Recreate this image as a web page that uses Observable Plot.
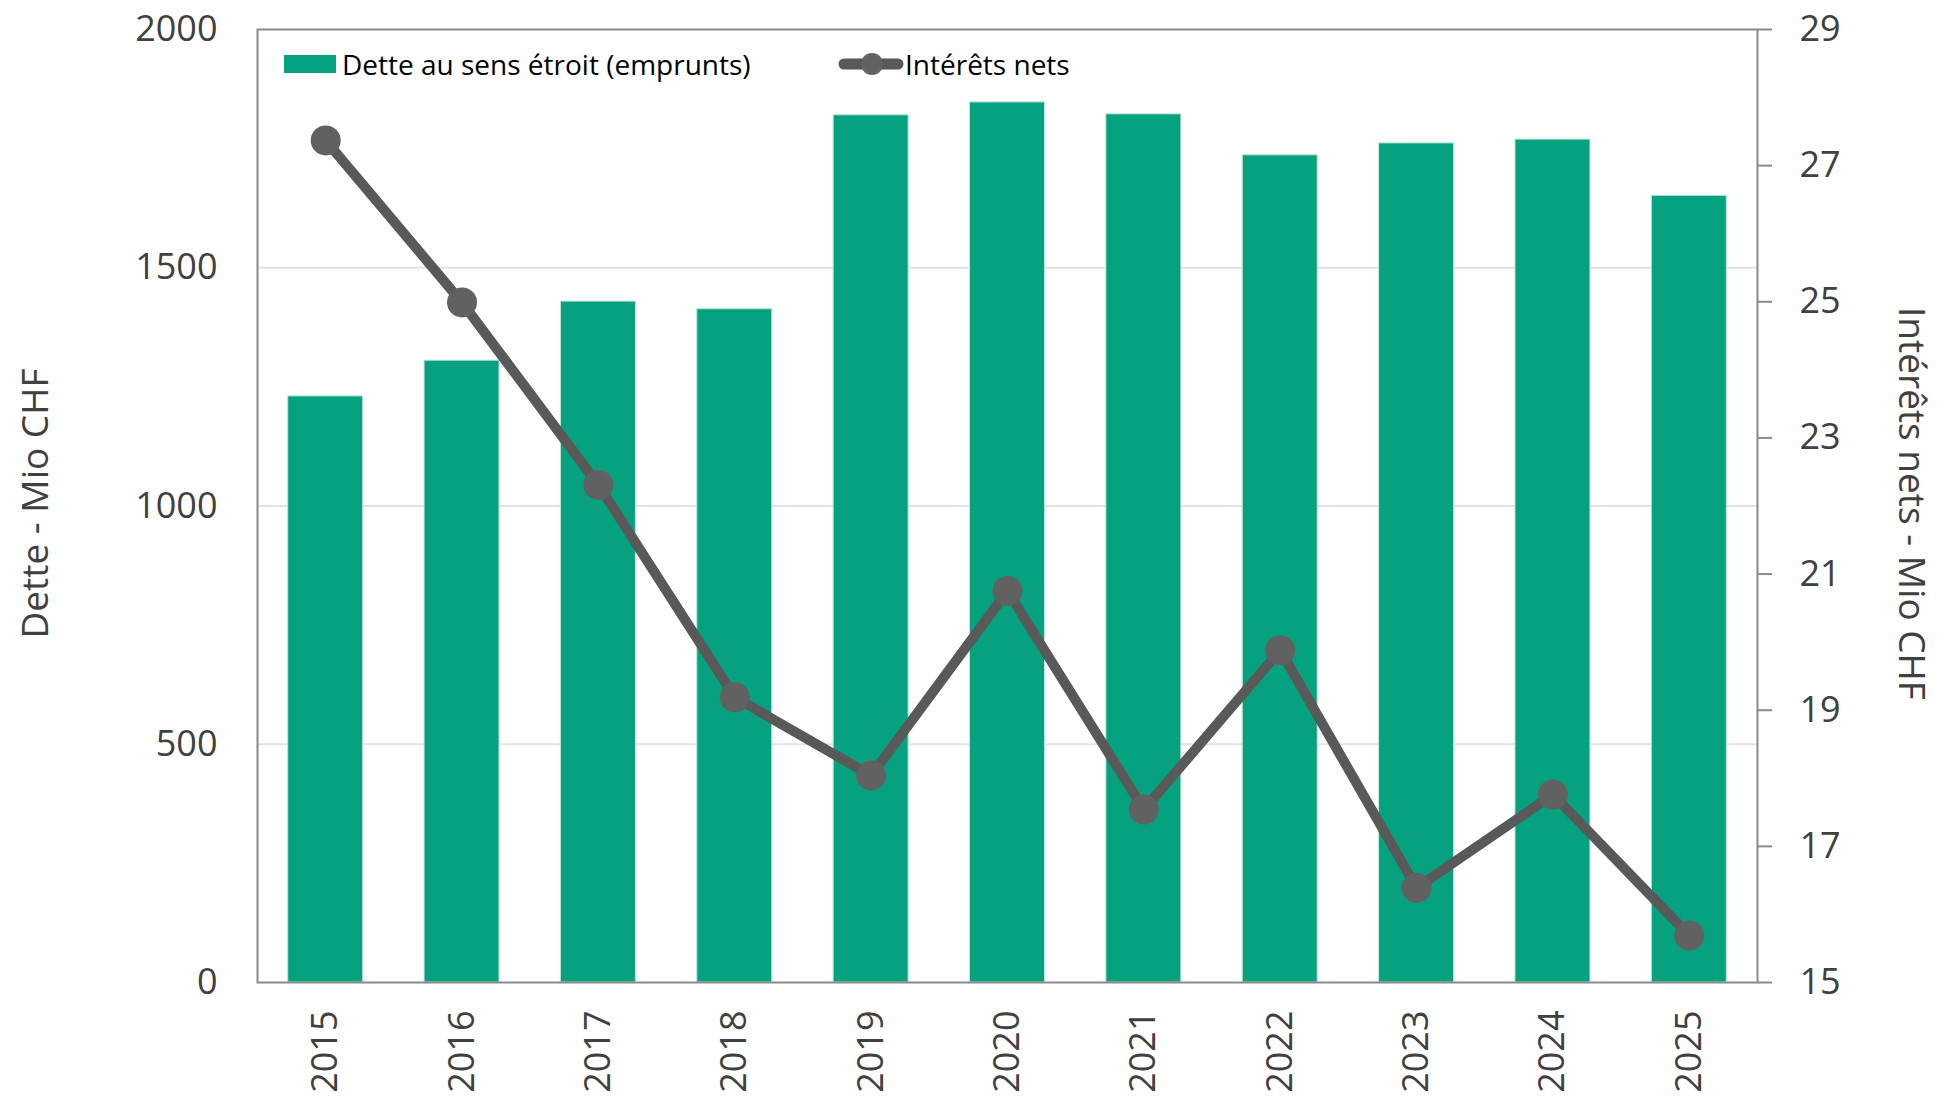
<!DOCTYPE html>
<html><head><meta charset="utf-8">
<script src="https://cdn.jsdelivr.net/npm/d3@7"></script>
<script src="https://cdn.jsdelivr.net/npm/@observablehq/plot@0.6"></script>
<style>
body{margin:0;background:#fff;font-family:"Open Sans",sans-serif;}
#wrap{position:relative;width:1939px;height:1099px;overflow:hidden;}
.ttl{position:absolute;white-space:nowrap;font-size:37px;color:#404040;transform-origin:center;}
.leg{position:absolute;display:flex;align-items:center;font-size:28px;color:#000;white-space:nowrap;}
</style></head><body><div id="wrap"></div>
<script>
const years = ["2015","2016","2017","2018","2019","2020","2021","2022","2023","2024","2025"];
const dette = [1230,1305,1429,1413,1820,1847,1822,1736,1761,1769,1651];
const interets = [27.37,24.99,22.31,19.19,18.04,20.75,17.54,19.88,16.39,17.76,15.69];
const leftTicks = [0,500,1000,1500,2000];
const gridTicks = [500,1000,1500];
const rightTicks = [15,17,19,21,23,25,27,29];
const seriesNames = ["Dette au sens étroit (emprunts)","Intérêts nets"];
const axisTitles = ["Dette - Mio CHF","Intérêts nets - Mio CHF"];

const barColor = "#06a27f";
const lineColor = "#595959";
const dotColor = "#616161";

const toLeft = d3.scaleLinear([15,29],[0,2000]);
const data = years.map((y,i)=>({year:y, dette:dette[i], inter:interets[i], interY:toLeft(interets[i])}));

const chart = Plot.plot({
  width:1939, height:1099,
  marginLeft:257, marginRight:182, marginTop:29, marginBottom:117,
  style:{fontFamily:"Open Sans", fontSize:"36px", color:"#404040", background:"white"},
  x:{type:"band", domain:years, paddingInner:0.45, paddingOuter:0.225, round:false},
  y:{domain:[0,2000]},
  marks:[
    Plot.gridY(gridTicks,{stroke:"#e3e3e3", strokeOpacity:1, strokeWidth:2}),
    Plot.barY(data,{x:"year", y:"dette", fill:barColor, stroke:"#bfe6da", strokeWidth:1}),
    Plot.frame({stroke:"#8a8a8a", strokeWidth:2}),
    Plot.axisY(leftTicks,{anchor:"left", tickSize:0, tickPadding:40, fill:"#404040", fontSize:36, label:null, tickFormat:d=>String(d)}),
    Plot.axisY(rightTicks.map(v=>toLeft(v)),{anchor:"right", tickSize:14, tickPadding:28, stroke:"#8a8a8a", strokeWidth:2, fill:"#404040", fontSize:36, label:null, tickFormat:d=>String(Math.round(toLeft.invert(d)))}),
    Plot.axisX({anchor:"bottom", tickSize:0, tickRotate:-90, tickPadding:28, fill:"#404040", fontSize:36, label:null}),
    Plot.line(data,{x:"year", y:"interY", stroke:lineColor, strokeWidth:10, strokeLinejoin:"round", strokeLinecap:"round"}),
    Plot.dot(data,{x:"year", y:"interY", r:15, fill:dotColor, stroke:"none"})
  ]
});
const wrap = document.getElementById("wrap");
wrap.appendChild(chart);

// axis titles
const t1 = document.createElement("div");
t1.className="ttl"; t1.textContent=axisTitles[0];
wrap.appendChild(t1);
t1.style.left = (33 - t1.offsetWidth/2)+"px";
t1.style.top = (503 - t1.offsetHeight/2)+"px";
t1.style.transform="rotate(-90deg)";
const t2 = document.createElement("div");
t2.className="ttl"; t2.textContent=axisTitles[1];
wrap.appendChild(t2);
t2.style.left = (1913 - t2.offsetWidth/2)+"px";
t2.style.top = (503 - t2.offsetHeight/2)+"px";
t2.style.transform="rotate(90deg)";

// legend
const l1 = document.createElement("div");
l1.className="leg";
l1.style.left="284px"; l1.style.top="44px"; l1.style.height="40px";
l1.innerHTML = `<span style="display:inline-block;width:52px;height:18px;background:${barColor};margin-right:6px"></span><span>${seriesNames[0]}</span>`;
wrap.appendChild(l1);
const l2 = document.createElement("div");
l2.className="leg";
l2.style.left="838px"; l2.style.top="44px"; l2.style.height="40px";
l2.innerHTML = `<svg width="66" height="30" style="margin-right:1px"><line x1="6" y1="15" x2="60" y2="15" stroke="${lineColor}" stroke-width="11" stroke-linecap="round"/><circle cx="34" cy="15" r="11" fill="${dotColor}"/></svg><span>${seriesNames[1]}</span>`;
wrap.appendChild(l2);
</script>
</body></html>
